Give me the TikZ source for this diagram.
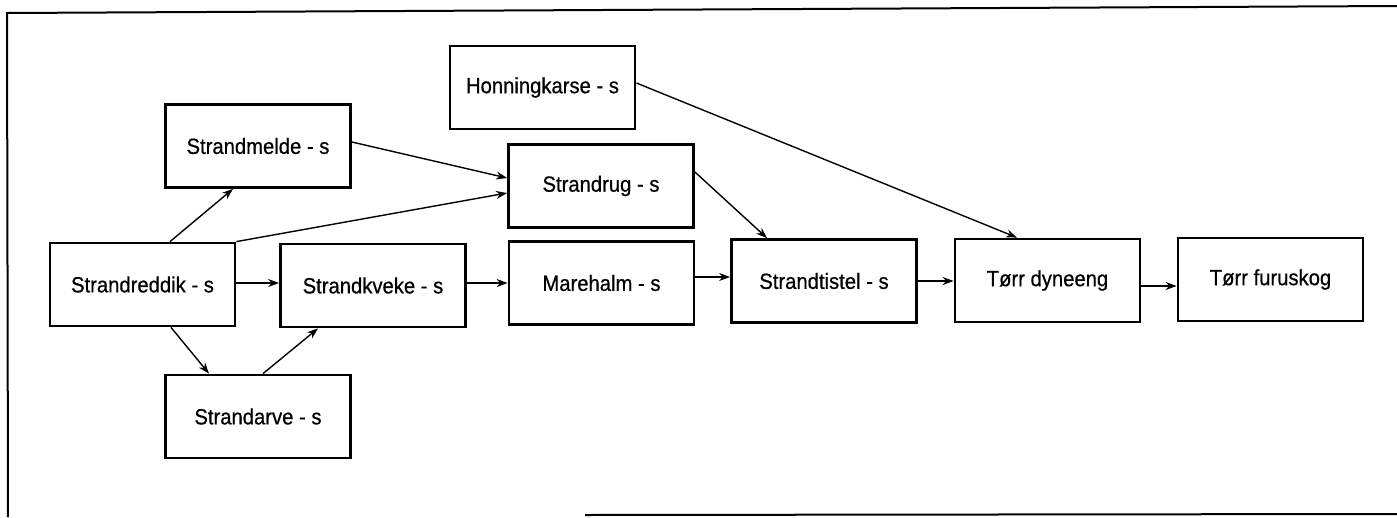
\documentclass[tikz,border=0pt]{standalone}
\usepackage{fontspec}
\setmainfont{Liberation Sans}[FakeStretch=0.92,FakeBold=0.6]
\usetikzlibrary{arrows.meta,calc}
\begin{document}
\begin{tikzpicture}[x=1pt,y=-1pt,
  box/.style={draw,line width=2.8pt,minimum width=185pt,minimum height=83pt,inner sep=0pt,
    font=\fontsize{22}{26}\selectfont},
  conn/.style={line width=1.4pt,-{Stealth[length=11pt,width=8pt]}},
  frameline/.style={line width=2pt}]
\useasboundingbox (0,0) rectangle (1397,517);
% frame
\coordinate (ftl) at (7,13);
\coordinate (ftr) at (1397,6);
\coordinate (fbl) at (8,517);
\coordinate (fbs) at (585,515);
\coordinate (fbr) at (1397,514);
\draw[frameline] (fbl) -- (ftl) -- (ftr);
\draw[frameline] (fbs) -- (fbr);
% boxes
\node[box] (reddik) at (142.5,284.5) {Strandreddik - s};
\node[box] (melde) at (258,146) {Strandmelde - s};
\node[box] (arve) at (258,416.5) {Strandarve - s};
\node[box] (kveke) at (373,285.5) {Strandkveke - s};
\node[box] (honning) at (542.5,87.5) {Honningkarse - s};
\node[box] (rug) at (601,186) {Strandrug - s};
\node[box] (marehalm) at (601.5,283) {Marehalm - s};
\node[box] (tistel) at (824,281) {Strandtistel - s};
\node[box] (dyne) at (1047.5,280.5) {Tørr dyneeng};
\node[box] (furu) at (1270.5,279.5) {Tørr furuskog};
% connectors
\draw[conn] (reddik.north -| 170,0) -- (melde.south -| 233,0);
\draw[conn] (reddik.north east) -- (rug.west |- 0,193);
\draw[conn] (melde.east |- 0,142) -- (rug.west |- 0,178);
\draw[conn] (reddik.south -| 171,0) -- (arve.north -| 209,0);
\draw[conn] (arve.north -| 263,0) -- (kveke.south -| 318,0);
\draw[conn] (reddik.east |- 0,283) -- (kveke.west |- 0,283);
\draw[conn] (kveke.east |- 0,283) -- (marehalm.west |- 0,283);
\draw[conn] (marehalm.east |- 0,277) -- (tistel.west |- 0,277);
\draw[conn] (rug.east |- 0,172) -- (tistel.north -| 767,0);
\draw[conn] (honning.east |- 0,83) -- (dyne.north -| 1017,0);
\draw[conn] (tistel.east |- 0,281) -- (dyne.west |- 0,281);
\draw[conn] (dyne.east |- 0,286) -- (furu.west |- 0,286);
\end{tikzpicture}
\end{document}
